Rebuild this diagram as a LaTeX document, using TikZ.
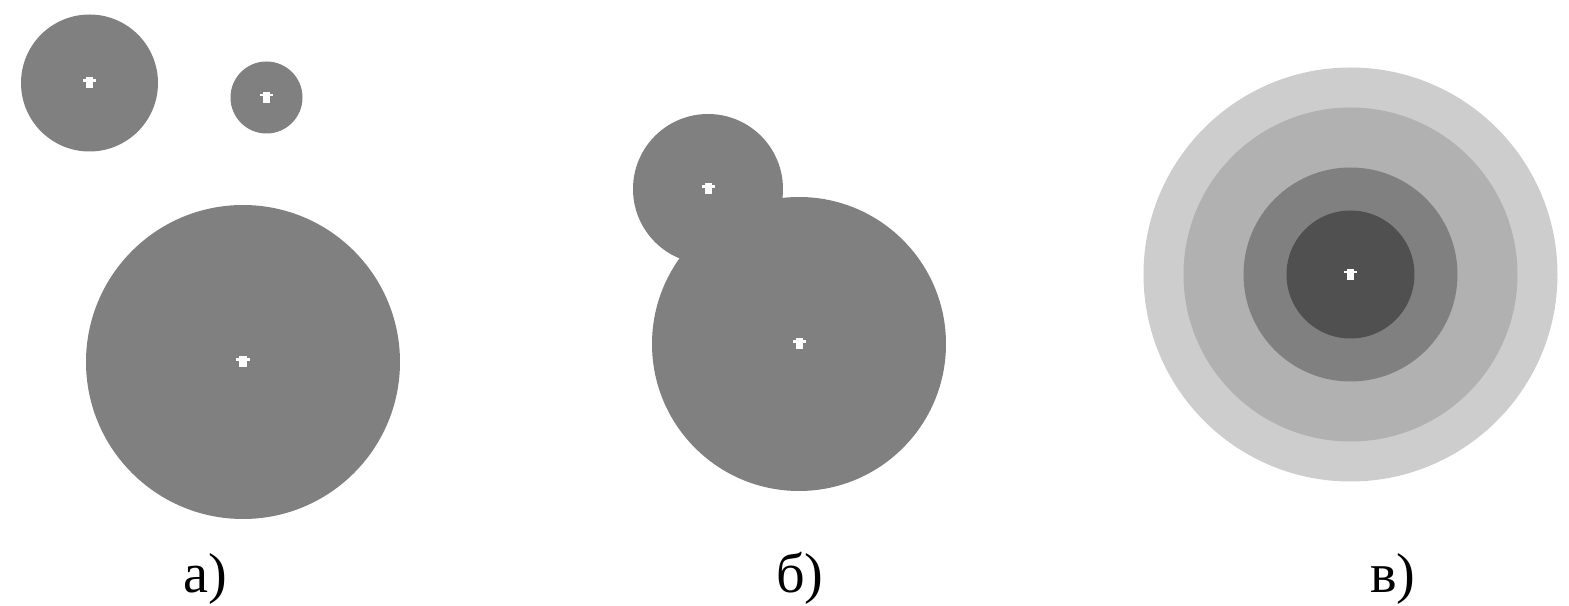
\documentclass[tikz,border=0pt]{standalone}
\usepackage{fontspec}
\setmainfont{Liberation Serif}
\usepackage{tikz}
\usetikzlibrary{positioning, calc}
\usepackage{xcolor}
\definecolor{zonegray}{RGB}{128,128,128}
\definecolor{ringlight}{RGB}{205,205,205}
\definecolor{ringmid}{RGB}{177,177,177}
\definecolor{ringdark}{RGB}{80,80,80}

\begin{document}
\begin{tikzpicture}[font=\fontsize{16}{19}\selectfont,
    zone/.style={circle, fill=zonegray, inner sep=0pt, minimum size=#1},
    ring/.style 2 args={circle, fill=#1, inner sep=0pt, minimum size=#2},
    markv/.style={rectangle, fill=white, inner sep=0pt, minimum width=0.07cm, minimum height=0.11cm},
    markh/.style={rectangle, fill=white, inner sep=0pt, minimum width=0.13cm, minimum height=0.025cm},
    caption/.style={anchor=base, inner sep=0pt}
]
\useasboundingbox (0,0) rectangle (15.69,6.06);

% ============ PANEL a ============
\node[zone=1.37cm] (A1) at (0.895,5.23)  {};
\node[zone=0.72cm] (A2) at (2.665,5.085) {};
\node[zone=3.14cm] (A3) at (2.43, 2.44)  {};
\node[caption] (la) at (2.05,0.13) {а)};

% ============ PANEL b ============
\node[zone=1.50cm] (B1) at (7.08,4.17) {};
\node[zone=2.94cm] (B2) at (7.99,2.62) {};
\node[caption] (lb) at (8.00,0.13) {б)};

% ============ PANEL c ============
\node[ring={ringlight}{4.14cm}] (C1) at (13.505,3.315) {};
\node[ring={ringmid}{3.34cm}]   (C2) at (13.505,3.315) {};
\node[ring={zonegray}{2.14cm}]  (C3) at (13.505,3.315) {};
\node[ring={ringdark}{1.28cm}]  (C4) at (13.505,3.315) {};
\node[caption] (lc) at (13.93,0.13) {в)};

% centre marks
\foreach \c in {A1,A2,A3,B1,B2,C4} {
  \node[markv] at (\c) {};
  \node[markh] at ([yshift=0.025cm]\c) {};
}
\end{tikzpicture}
\end{document}
